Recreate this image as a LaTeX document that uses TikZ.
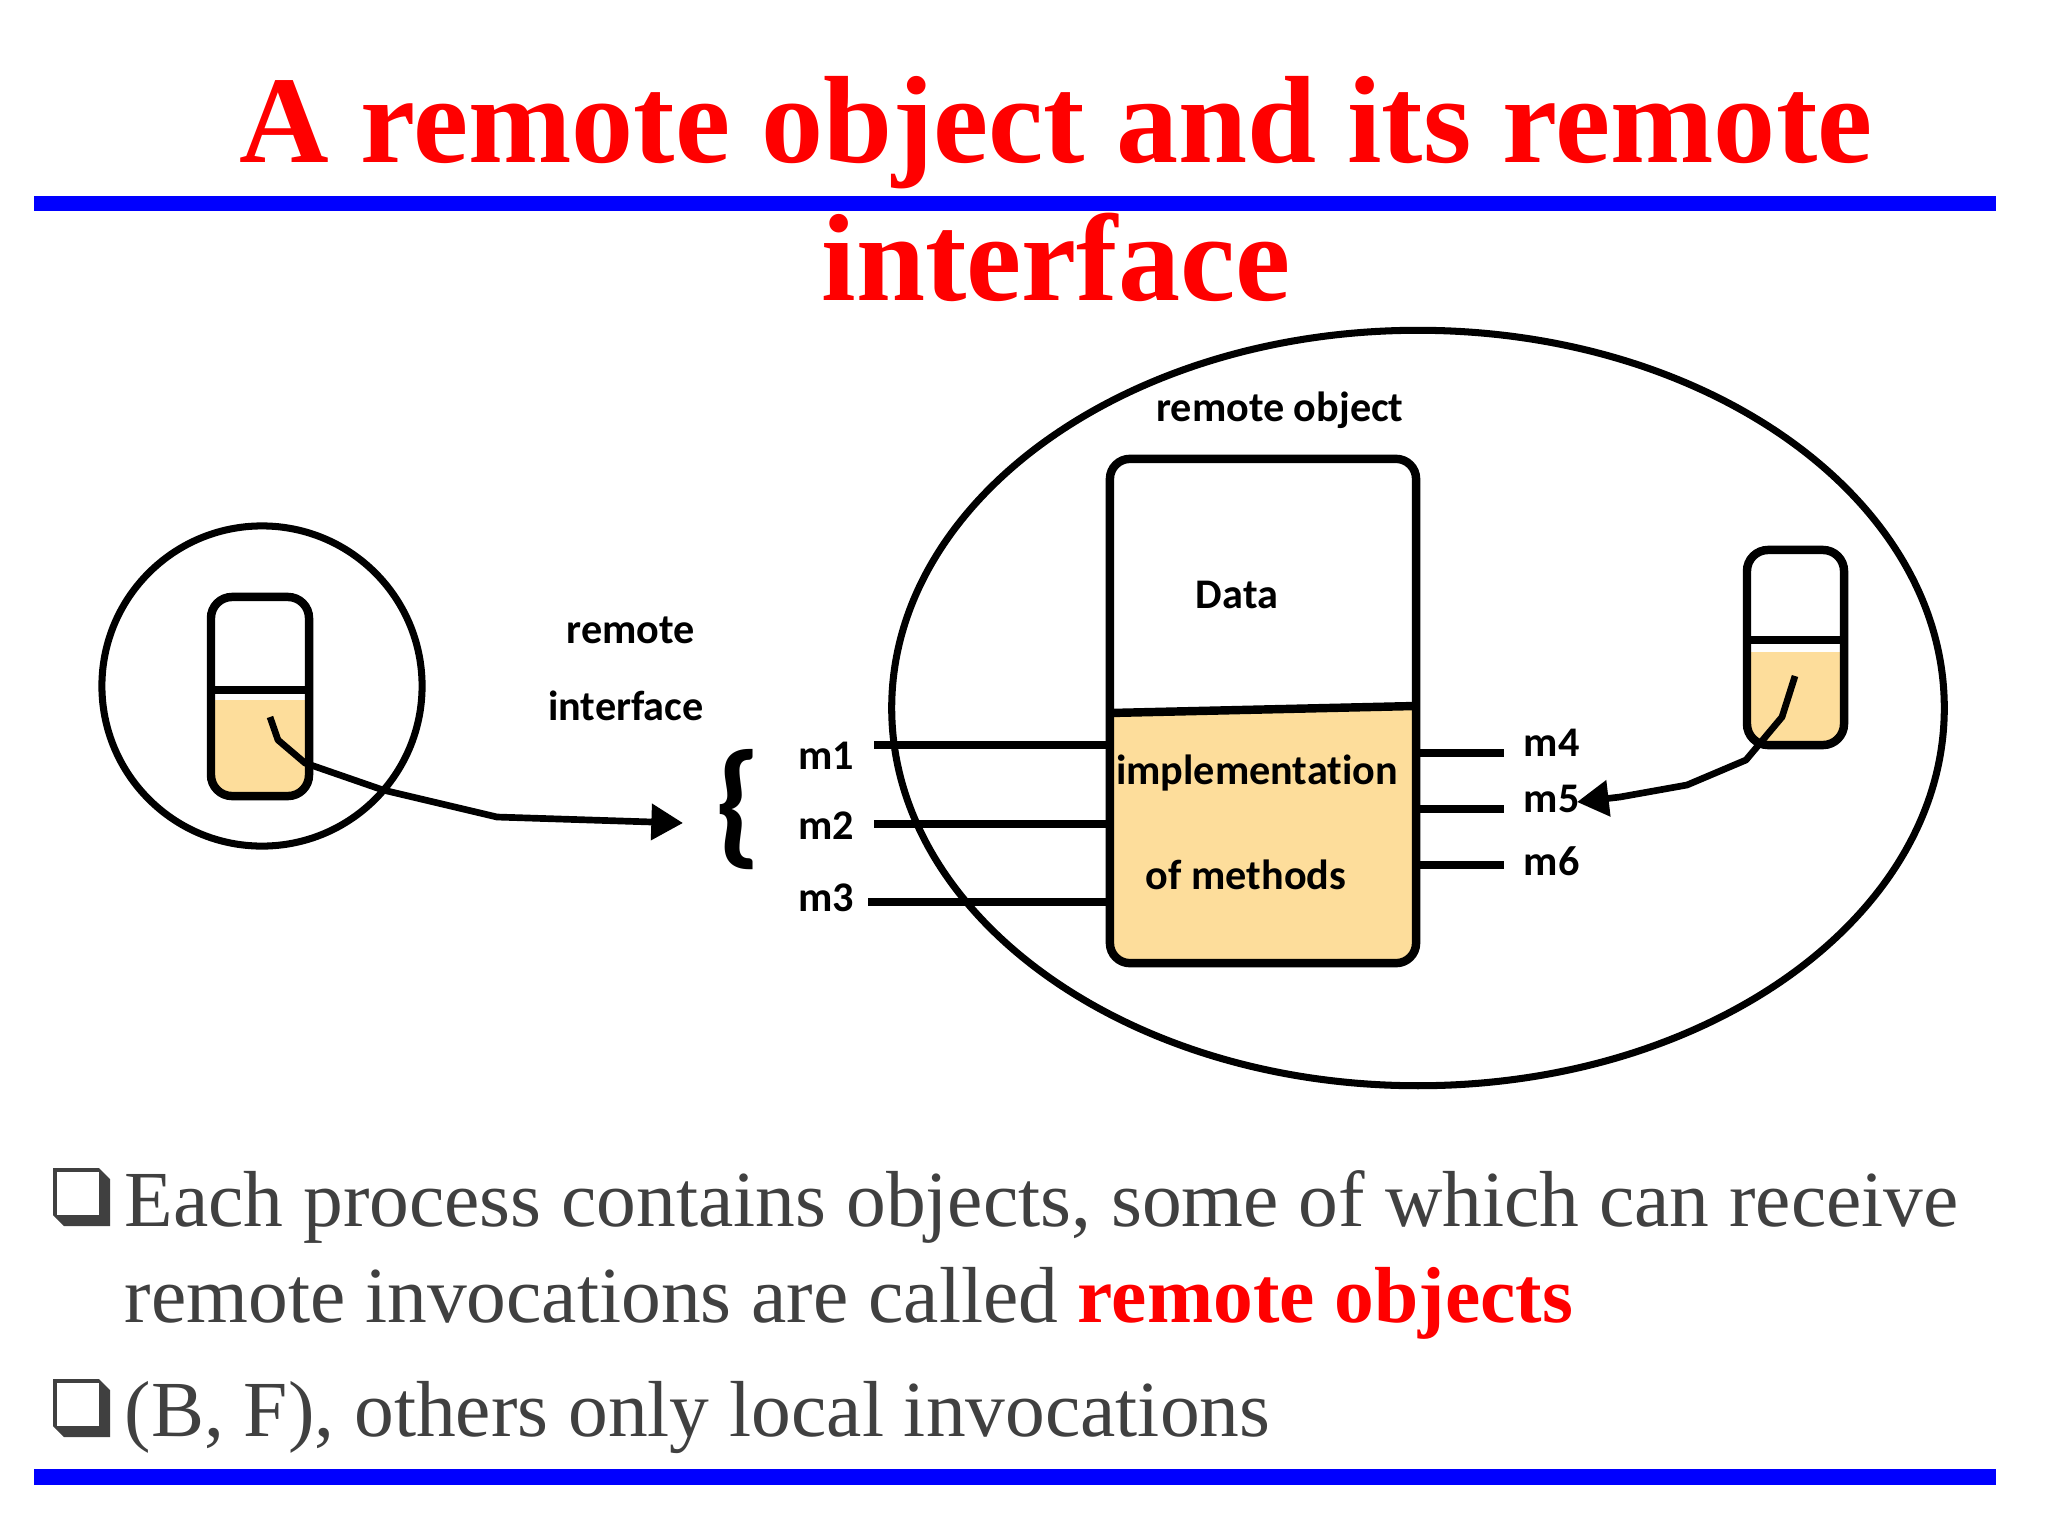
\documentclass[tikz,border=0pt]{standalone}
\usepackage{fontspec}
\setmainfont{Liberation Serif}
\newfontfamily\labfont[Ligatures=NoCommon]{Carlito}
\usetikzlibrary{arrows.meta,shapes.geometric}
\definecolor{procfill}{HTML}{FDDD9B}
\definecolor{titlered}{HTML}{FF0000}
\definecolor{bodygray}{HTML}{404040}
\definecolor{ruleblue}{HTML}{0000FF}
\tikzset{
  lab/.style={font=\labfont\bfseries\fontsize{12}{14}\selectfont, inner sep=0pt, anchor=base},
  outline/.style={line width=2.4pt, draw=black},
  methline/.style={line width=2.2pt},
  callarrow/.style={line width=1.9pt, -{Triangle[length=9pt,width=10pt]}, line join=round},
  ttl/.style={font=\bfseries\fontsize{35.3}{40}\selectfont, text=titlered, inner sep=0pt, anchor=base},
  body/.style={font=\fontsize{22.6}{26}\selectfont, text=bodygray, inner sep=0pt, anchor=base west},
  bullet/.style={fill=bodygray},
}
\begin{document}
\begin{tikzpicture}[x=0.01cm, y=-0.01cm]
\useasboundingbox (0,0) rectangle (2048,1536);
\fill[white] (0,0) rectangle (2048,1536);

% title
\node[ttl] (t1) at (1056,162) {A remote object and its remote};
\node[ttl] (t2) at (1056,300) {interface};
\fill[ruleblue] (34,196) rectangle (1996,211);

% left process
\node[draw, circle, line width=2pt, minimum size=3.2cm] (lp) at (262,686) {};
\begin{scope}
  \clip[rounded corners=6pt] (211,597) rectangle (309,796);
  \fill[procfill] (211,700) rectangle (309,796);
\end{scope}
\node[outline, rounded corners=6pt, minimum width=0.98cm, minimum height=1.99cm, inner sep=0pt] (lbox) at (260,696.5) {};
\draw[outline] (211,690) -- (305,690);

\node[lab] (ri1) at (631,643) {remote};
\node[lab] (ri2) at (626,720) {interface};
\node[font=\labfont\bfseries\fontsize{39}{39}\selectfont, inner sep=0pt] (brace) at (738,810) {\{};

\coordinate (lstart) at (270,717);
\coordinate (ltip) at (683,823);
\draw[callarrow] (lstart) -- (278,740) -- (305,763) -- (383,790) -- (497,817) -- (ltip);

% remote object
\node[draw, ellipse, line width=2pt, minimum width=10.52cm, minimum height=7.55cm, inner sep=0pt] (ro) at (1418,708) {};
\node[lab] (rotxt) at (1280,421) {remote object};

\begin{scope}
  \clip[rounded corners=5.7pt] (1110,459) rectangle (1416,963);
  \fill[procfill] (1110,714) -- (1416,707) -- (1416,963) -- (1110,963) -- cycle;
\end{scope}
\node[outline, rounded corners=5.7pt, minimum width=3.06cm, minimum height=5.04cm, inner sep=0pt] (robox) at (1263,711) {};
\draw[outline] (1110,713) -- (1415,706);

\node[lab] (data) at (1237,608) {Data};
\node[lab] (impl1) at (1257,784) {implementation};
\node[lab] (impl2) at (1246,889) {of methods};

% method stubs
\node[lab] (m1) at (826,769) {m1};
\node[lab] (m2) at (826,839) {m2};
\node[lab] (m3) at (826,911) {m3};
\draw[methline] (1110,745) -- (874,745);
\draw[methline] (1110,824) -- (874,824);
\draw[methline] (1110,902) -- (868,902);

\node[lab, anchor=base west] (m4) at (1523,756) {m4};
\node[lab, anchor=base west] (m5) at (1523,812) {m5};
\node[lab, anchor=base west] (m6) at (1523,875) {m6};
\draw[methline] (1416,753) -- (1504,753);
\draw[methline] (1416,809) -- (1504,809);
\draw[methline] (1416,865) -- (1504,865);

% right process
\begin{scope}
  \clip[rounded corners=6pt] (1747,550) rectangle (1844,745);
  \fill[procfill] (1747,652) rectangle (1844,745);
\end{scope}
\node[outline, rounded corners=6pt, minimum width=0.97cm, minimum height=1.95cm, inner sep=0pt] (rbox) at (1795.5,647.5) {};
\draw[outline] (1747,640) -- (1843,640);

\coordinate (rstart) at (1795,676);
\coordinate (rtip) at (1577,802);
\draw[callarrow] (rstart) -- (1782,717) -- (1746,760) -- (1687,785) -- (1620,797) -- (rtip);

% bullets
\fill[bullet] (53,1168) -- (99,1168) -- (110,1179) -- (110,1226) -- (64,1226) -- (53,1215) -- cycle;
\fill[white] (57,1172) rectangle (99,1215);
\node[body] (b1a) at (124,1226) {Each process contains objects, some of which can receive};
\node[body] (b1b) at (124,1322) {remote invocations are called {\color{titlered}\bfseries remote objects}};

\fill[bullet] (53,1379) -- (99,1379) -- (110,1390) -- (110,1437) -- (64,1437) -- (53,1426) -- cycle;
\fill[white] (57,1383) rectangle (99,1426);
\node[body] (b2) at (124,1436) {(B, F), others only local invocations};

\fill[ruleblue] (34,1469) rectangle (1996,1485);
\end{tikzpicture}
\end{document}
